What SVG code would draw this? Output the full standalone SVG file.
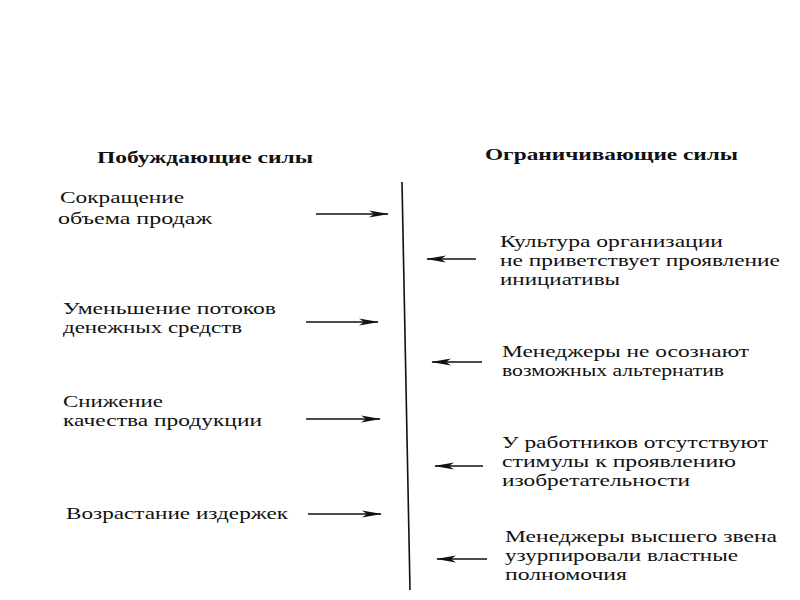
<svg xmlns="http://www.w3.org/2000/svg" width="800" height="600" viewBox="0 0 800 600">
<defs>
<style>
text{font-family:"Liberation Serif","DejaVu Serif",serif;font-size:16.5px;fill:#111;}
.h{font-weight:bold;font-size:16px;}
.c{stroke:#111;stroke-width:1.6;fill:none;}
</style>
<marker id="ah" markerWidth="20" markerHeight="9" refX="19" refY="4.5" orient="auto" markerUnits="userSpaceOnUse">
<path d="M0,1 L20,4.5 L0,8 L5,4.5 Z" fill="#111"/>
</marker>
</defs>
<rect width="800" height="600" fill="#fff"/>
<g id="headers">
<text class="h" x="97" y="163" textLength="216" lengthAdjust="spacingAndGlyphs">Побуждающие силы</text>
<text class="h" x="485" y="160" textLength="253" lengthAdjust="spacingAndGlyphs">Ограничивающие силы</text>
</g>
<g id="axis"><line class="c" x1="402" y1="182" x2="410" y2="590" stroke-width="2"/></g>
<g id="d1"><text x="60" y="203" textLength="124" lengthAdjust="spacingAndGlyphs">Сокращение</text><text x="58" y="224" textLength="154" lengthAdjust="spacingAndGlyphs">объема продаж</text></g>
<g id="d2"><text x="63" y="314" textLength="213" lengthAdjust="spacingAndGlyphs">Уменьшение потоков</text><text x="63" y="333" textLength="179" lengthAdjust="spacingAndGlyphs">денежных средств</text></g>
<g id="d3"><text x="63" y="407" textLength="100" lengthAdjust="spacingAndGlyphs">Снижение</text><text x="63" y="426" textLength="199" lengthAdjust="spacingAndGlyphs">качества продукции</text></g>
<g id="d4"><text x="66" y="519" textLength="222" lengthAdjust="spacingAndGlyphs">Возрастание издержек</text></g>
<g id="r1"><text x="500" y="247" textLength="223" lengthAdjust="spacingAndGlyphs">Культура организации</text><text x="500" y="266" textLength="280" lengthAdjust="spacingAndGlyphs">не приветствует проявление</text><text x="500" y="285" textLength="120" lengthAdjust="spacingAndGlyphs">инициативы</text></g>
<g id="r2"><text x="502" y="357" textLength="247" lengthAdjust="spacingAndGlyphs">Менеджеры не осознают</text><text x="502" y="376" textLength="222" lengthAdjust="spacingAndGlyphs">возможных альтернатив</text></g>
<g id="r3"><text x="502" y="448" textLength="266" lengthAdjust="spacingAndGlyphs">У работников отсутствуют</text><text x="502" y="467" textLength="234" lengthAdjust="spacingAndGlyphs">стимулы к проявлению</text><text x="502" y="486" textLength="188" lengthAdjust="spacingAndGlyphs">изобретательности</text></g>
<g id="r4"><text x="505" y="542" textLength="272" lengthAdjust="spacingAndGlyphs">Менеджеры высшего звена</text><text x="505" y="561" textLength="233" lengthAdjust="spacingAndGlyphs">узурпировали властные</text><text x="505" y="580" textLength="122" lengthAdjust="spacingAndGlyphs">полномочия</text></g>
<g id="connectors">
<line class="c" x1="316" y1="214" x2="388" y2="214" marker-end="url(#ah)"/>
<line class="c" x1="306" y1="322" x2="378" y2="322" marker-end="url(#ah)"/>
<line class="c" x1="306" y1="419" x2="380" y2="419" marker-end="url(#ah)"/>
<line class="c" x1="308" y1="514" x2="381" y2="514" marker-end="url(#ah)"/>
<line class="c" x1="476" y1="259" x2="427" y2="259" marker-end="url(#ah)"/>
<line class="c" x1="482" y1="362" x2="432" y2="362" marker-end="url(#ah)"/>
<line class="c" x1="483" y1="466" x2="435" y2="466" marker-end="url(#ah)"/>
<line class="c" x1="487" y1="559" x2="437" y2="559" marker-end="url(#ah)"/>
</g>
</svg>
